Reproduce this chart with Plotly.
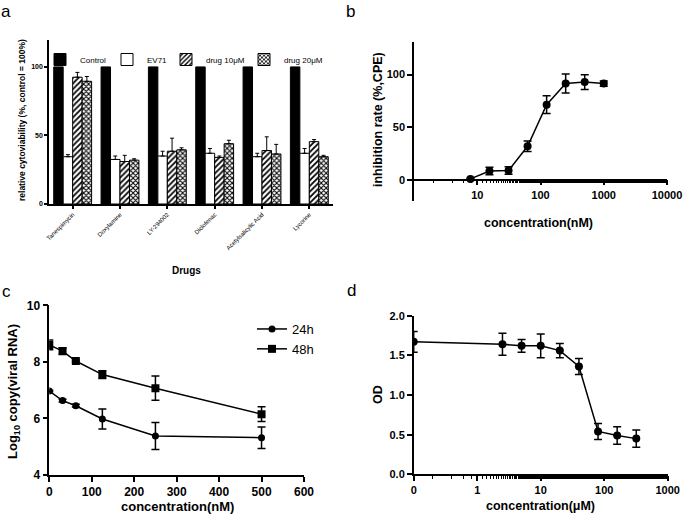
import plotly.graph_objects as go

W, H = 685, 516  # reference picture size, used to convert pixel positions to paper fractions

# ---------------- data ----------------
drugs = ["Tanespimycin", "Doxylamine", "LY-294002", "Diclofenac",
         "Acetylsalicylic Acid", "Lycorine"]
control_vals = [100, 100, 100, 100, 100, 100]
ev71_vals = [34.5, 32.5, 35, 37, 34.5, 37]
ev71_err = [1.5, 2.5, 3.5, 3.5, 2.5, 3.5]
drug10_vals = [92.5, 31, 38.5, 34, 39, 45.5]
drug10_err = [3.5, 4.5, 9.5, 1, 10, 1.5]
drug20_vals = [89.5, 32, 39.5, 44, 36.5, 34.5]
drug20_err = [3.5, 1, 1.5, 2.5, 7, 1]

conc_b = [7.8, 15.6, 31.25, 62.5, 125, 250, 500, 1000]
inhib_b = [1, 8.5, 9, 32, 71.5, 91.5, 93, 91.5]
inhib_b_err = [0.5, 3.5, 3.5, 5, 8.5, 9, 7, 2.5]

conc_c = [0, 31.25, 62.5, 125, 250, 500]
rna_24h = [6.97, 6.63, 6.45, 5.98, 5.38, 5.32]
rna_24h_err = [0.03, 0.05, 0.05, 0.35, 0.48, 0.38]
rna_48h = [8.6, 8.38, 8.03, 7.55, 7.07, 6.15]
rna_48h_err = [0.17, 0.12, 0.04, 0.14, 0.43, 0.26]

conc_d = [0, 2.5, 5, 10, 20, 40, 80, 160, 320]
od_d = [1.67, 1.64, 1.62, 1.62, 1.56, 1.36, 0.54, 0.49, 0.45]
od_d_err = [0.13, 0.14, 0.08, 0.15, 0.09, 0.1, 0.1, 0.11, 0.11]

ticks_b = [10, 100, 1000, 10000]
ticks_d = [0, 1, 10, 100, 1000]
ZERO_POS_D = 0.1  # where concentration 0 is drawn on the log axis of panel d

FONT = "Liberation Sans, Arial, sans-serif"


def px_x(p):
    return p / W


def px_y(p):
    return 1 - p / H


fig = go.Figure()

# ---------------- panel a ----------------
err_style = dict(type="data", symmetric=False, color="black", thickness=1, width=2)
fig.add_trace(go.Bar(x=drugs, y=control_vals, name="Control",
                     marker=dict(color="black", line=dict(color="black", width=1)),
                     xaxis="x", yaxis="y", legend="legend"))
fig.add_trace(go.Bar(x=drugs, y=ev71_vals, name="EV71",
                     marker=dict(color="white", line=dict(color="black", width=1)),
                     error_y=dict(array=ev71_err, arrayminus=[0] * 6, **err_style),
                     xaxis="x", yaxis="y", legend="legend3"))
fig.add_trace(go.Bar(x=drugs, y=drug10_vals, name="drug 10μM",
                     marker=dict(color="white", line=dict(color="black", width=1),
                                 pattern=dict(shape="/", fgcolor="black", bgcolor="white",
                                              size=4, solidity=0.45, fillmode="replace")),
                     error_y=dict(array=drug10_err, arrayminus=[0] * 6, **err_style),
                     xaxis="x", yaxis="y", legend="legend4"))
fig.add_trace(go.Bar(x=drugs, y=drug20_vals, name="drug 20μM",
                     marker=dict(color="white", line=dict(color="black", width=1),
                                 pattern=dict(shape="x", fgcolor="black", bgcolor="white",
                                              size=3.5, solidity=0.5, fillmode="replace")),
                     error_y=dict(array=drug20_err, arrayminus=[0] * 6, **err_style),
                     xaxis="x", yaxis="y", legend="legend5"))

# ---------------- panel b ----------------
line_style = dict(color="black", width=1.5)
fig.add_trace(go.Scatter(x=conc_b, y=inhib_b, mode="lines+markers",
                         line=line_style, marker=dict(symbol="circle", size=8, color="black"),
                         error_y=dict(type="data", array=inhib_b_err, color="black",
                                      thickness=1.5, width=4),
                         xaxis="x2", yaxis="y2", showlegend=False))

# ---------------- panel c ----------------
fig.add_trace(go.Scatter(x=conc_c, y=rna_24h, mode="lines+markers", name="24h",
                         line=line_style, marker=dict(symbol="circle", size=7, color="black"),
                         error_y=dict(type="data", array=rna_24h_err, color="black",
                                      thickness=1.5, width=4),
                         xaxis="x3", yaxis="y3", legend="legend2"))
fig.add_trace(go.Scatter(x=conc_c, y=rna_48h, mode="lines+markers", name="48h",
                         line=line_style, marker=dict(symbol="square", size=8, color="black"),
                         error_y=dict(type="data", array=rna_48h_err, color="black",
                                      thickness=1.5, width=4),
                         xaxis="x3", yaxis="y3", legend="legend2"))

# ---------------- panel d ----------------
x_d = [c if c > 0 else ZERO_POS_D for c in conc_d]
fig.add_trace(go.Scatter(x=x_d, y=od_d, mode="lines+markers",
                         line=line_style, marker=dict(symbol="circle", size=8, color="black"),
                         error_y=dict(type="data", array=od_d_err, color="black",
                                      thickness=1.5, width=4),
                         xaxis="x4", yaxis="y4", showlegend=False))

# ---------------- axes ----------------
axis_common = dict(showline=True, linecolor="black", linewidth=1.5, showgrid=False,
                   zeroline=False, ticks="outside", tickcolor="black", tickwidth=1.5,
                   color="black")
tick_bold = dict(family=FONT, size=11, color="black", weight="bold")

fig.update_layout(
    xaxis=dict(domain=[px_x(49), px_x(333)], anchor="y", range=[-0.5, 5.5],
               tickangle=-45, ticklen=3, tickfont=dict(family=FONT, size=6, color="black"),
               **axis_common),
    yaxis=dict(domain=[px_y(204), px_y(39.5)], anchor="x", range=[0, 120],
               tickvals=[0, 50, 100], ticklen=3,
               tickfont=dict(family=FONT, size=7, color="black", weight="bold"),
               **axis_common),
    xaxis2=dict(domain=[px_x(414), px_x(667)], type="log", range=[0, 4],
                anchor="free", position=px_y(179.7), tickvals=ticks_b,
                ticktext=[str(t) for t in ticks_b], ticklen=5, tickfont=tick_bold,
                minor=dict(ticks="outside", ticklen=3, tickcolor="black", tickwidth=1,
                           showgrid=False),
                **axis_common),
    yaxis2=dict(domain=[px_y(201), px_y(42)], anchor="x2", range=[-20, 131],
                tickvals=[0, 50, 100], ticklen=5, tickfont=tick_bold, **axis_common),
    xaxis3=dict(domain=[px_x(49.3), px_x(304)], anchor="y3", range=[0, 600],
                dtick=100, ticklen=5, tickfont=dict(family=FONT, size=12, color="black",
                                                   weight="bold"),
                **axis_common),
    yaxis3=dict(domain=[px_y(475), px_y(305.3)], anchor="x3", range=[4, 10],
                dtick=2, ticklen=5, tickfont=dict(family=FONT, size=12, color="black",
                                                 weight="bold"),
                **axis_common),
    xaxis4=dict(domain=[px_x(413.7), px_x(667.7)], anchor="y4", type="log", range=[-1, 3],
                tickvals=[t if t > 0 else ZERO_POS_D for t in ticks_d],
                ticktext=[str(t) for t in ticks_d], ticklen=5, tickfont=tick_bold,
                minor=dict(ticks="outside", ticklen=3, tickcolor="black", tickwidth=1,
                           showgrid=False),
                **axis_common),
    yaxis4=dict(domain=[px_y(474.3), px_y(315.7)], anchor="x4", range=[0, 2],
                dtick=0.5, tickformat=".1f", ticklen=5, tickfont=tick_bold, **axis_common),
)

# ---------------- legends ----------------
leg_a = dict(orientation="h", y=px_y(45), xanchor="left", yanchor="top",
             font=dict(family=FONT, size=8, color="black"), bgcolor="rgba(0,0,0,0)",
             itemwidth=30)
fig.update_layout(
    legend=dict(x=px_x(40), **leg_a),
    legend3=dict(x=px_x(107), **leg_a),
    legend4=dict(x=px_x(166), **leg_a),
    legend5=dict(x=px_x(244), **leg_a),
    legend2=dict(x=px_x(252), y=px_y(314), xanchor="left", yanchor="top",
                 font=dict(family=FONT, size=13, color="black"), bgcolor="rgba(0,0,0,0)",
                 itemwidth=30, tracegroupgap=0),
    barmode="group", bargap=0.2, bargroupgap=0,
    autosize=True, margin=dict(l=0, r=0, t=0, b=0, autoexpand=False),
    paper_bgcolor="white", plot_bgcolor="white",
    font=dict(family=FONT, color="black"),
)

# ---------------- titles / panel labels ----------------
ann = []


def add_text(text, x, y, size, bold=True, angle=0, yanchor="middle"):
    ann.append(dict(text=text, x=px_x(x), y=px_y(y), xref="paper", yref="paper",
                    showarrow=False, textangle=angle, xanchor="center", yanchor=yanchor,
                    font=dict(family=FONT, size=size, color="black",
                              weight="bold" if bold else "normal")))


add_text("a", 6, 0, 17, bold=False, yanchor="top")
add_text("b", 350, 0, 17, bold=False, yanchor="top")
add_text("c", 6, 280, 17, bold=False, yanchor="top")
add_text("d", 351, 279, 17, bold=False, yanchor="top")

add_text("relative cytoviability (%, control = 100%)", 22, 120, 8.5, angle=-90)
add_text("Drugs", 187, 270, 10)
add_text("inhibition rate (%,CPE)", 378, 120, 12.5, angle=-90)
add_text("concentration(nM)", 538, 223, 12.5)
add_text("Log<sub>10</sub> copy(viral RNA)", 13, 392, 13, angle=-90)
add_text("concentration(nM)", 177, 506, 13)
add_text("OD", 378, 395, 12.5, angle=-90)
add_text("concentration(μM)", 540, 506, 12.5)

fig.update_layout(annotations=ann)

fig.write_html(
    "out.html", config={"displayModeBar": False, "responsive": True},
    default_width="100vw", default_height="100vh",
    post_script=("var s='margin:0;padding:0;overflow:hidden;';"
                 "document.documentElement.style.cssText+=s;"
                 "document.body.style.cssText+=s;"
                 "var gd=document.getElementById('{plot_id}');"
                 "Plotly.Plots.resize(gd);"))
